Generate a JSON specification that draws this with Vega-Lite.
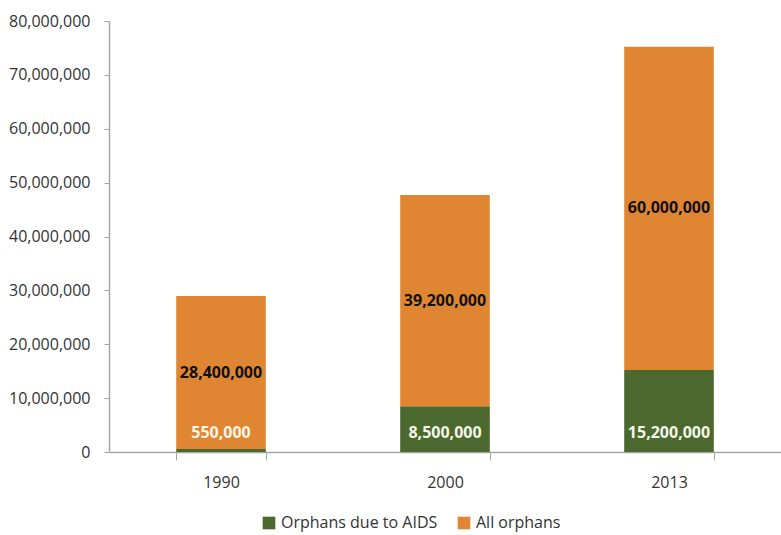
{
  "$schema": "https://vega.github.io/schema/vega-lite/v6.json",
  "width": 672,
  "height": 431,
  "autosize": "none",
  "padding": {"left": 109, "top": 21, "right": 0, "bottom": 83},
  "background": "white",
  "config": {
    "view": {"stroke": null},
    "font": "Open Sans",
    "axis": {"labelFont": "Open Sans", "labelColor": "#333333", "labelFontSize": 16, "domainColor": "#a6a6a6", "tickColor": "#a6a6a6", "grid": false, "title": null}
  },
  "data": {
    "values": [
      {"year": "1990", "category": "Orphans due to AIDS", "value": 550000},
      {"year": "1990", "category": "All orphans", "value": 28400000},
      {"year": "2000", "category": "Orphans due to AIDS", "value": 8500000},
      {"year": "2000", "category": "All orphans", "value": 39200000},
      {"year": "2013", "category": "Orphans due to AIDS", "value": 15200000},
      {"year": "2013", "category": "All orphans", "value": 60000000}
    ]
  },
  "encoding": {
    "x": {
      "field": "year", "type": "nominal",
      "scale": {"paddingInner": 0.6, "paddingOuter": 0.3},
      "axis": {"labelAngle": 0, "tickBand": "extent", "tickSize": 8, "labelPadding": 14, "domainWidth": 1.5}
    }
  },
  "layer": [
    {
      "mark": {"type": "bar"},
      "encoding": {
        "y": {
          "field": "value", "type": "quantitative", "stack": "zero",
          "scale": {"domain": [0, 80000000]},
          "axis": {"values": [0, 10000000, 20000000, 30000000, 40000000, 50000000, 60000000, 70000000, 80000000], "format": ",d", "tickSize": 5, "labelPadding": 14, "domainWidth": 1.5}
        },
        "color": {
          "field": "category", "type": "nominal",
          "scale": {"domain": ["Orphans due to AIDS", "All orphans"], "range": ["#4b682e", "#e08632"]},
          "legend": {"orient": "none", "legendX": 152, "legendY": 494, "direction": "horizontal", "title": null, "symbolType": "square", "symbolSize": 160, "symbolStrokeWidth": 0, "labelFontSize": 16, "labelColor": "#333333", "labelFont": "Open Sans", "columnPadding": 18, "symbolOpacity": 1}
        },
        "order": {"field": "category", "sort": "descending"}
      }
    },
    {
      "mark": {"type": "text", "fontWeight": "bold", "fontSize": 16, "color": "#111111", "baseline": "middle"},
      "encoding": {
        "y": {"field": "value", "type": "quantitative", "stack": "zero", "bandPosition": 0.5},
        "order": {"field": "category", "sort": "descending"},
        "detail": {"field": "category"},
        "opacity": {"condition": {"test": "datum.category == 'All orphans'", "value": 1}, "value": 0},
        "text": {"field": "value", "type": "quantitative", "format": ",d"}
      }
    },
    {
      "transform": [{"filter": "datum.category == 'Orphans due to AIDS'"}],
      "mark": {"type": "text", "fontWeight": "bold", "fontSize": 16, "color": "#f5f5e8", "baseline": "middle"},
      "encoding": {
        "y": {"datum": 3550000, "type": "quantitative"},
        "text": {"field": "value", "type": "quantitative", "format": ",d"}
      }
    }
  ]
}
